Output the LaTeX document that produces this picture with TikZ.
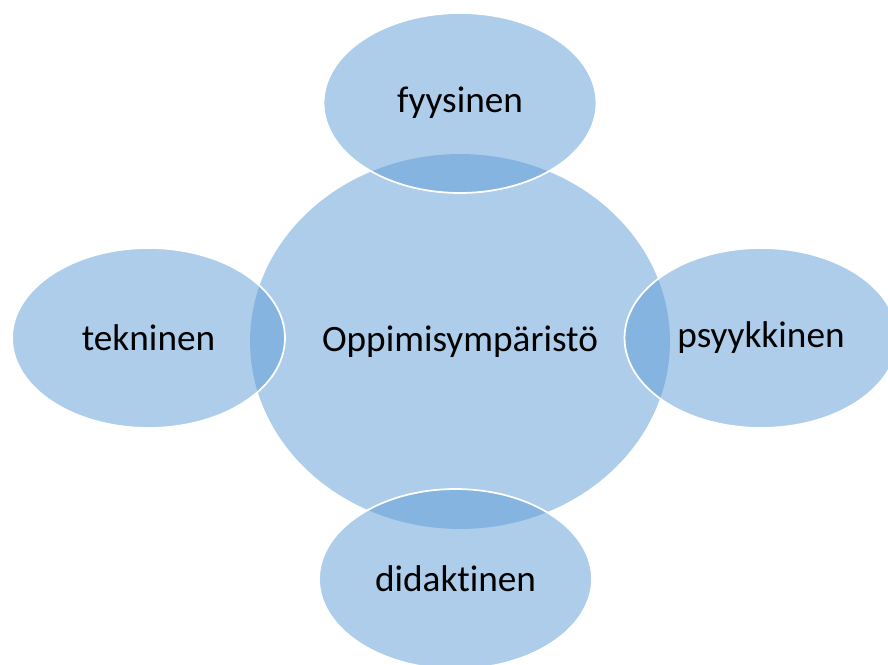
\documentclass[tikz,border=0pt]{standalone}
\usepackage{fontspec}
\setmainfont{Carlito}[Ligatures=NoCommon]
\usepackage{tikz}
\usetikzlibrary{shapes.geometric}
\definecolor{bubbleBlue}{RGB}{91,155,213}
\tikzset{
    hub/.style={ellipse, fill=bubbleBlue, fill opacity=.5, text opacity=1,
        inner sep=0, minimum width=8.4cm, minimum height=7.5cm,
        font=\fontsize{21.2}{25}\selectfont},
    spoke/.style={hub, draw=white, draw opacity=1, line width=1pt,
        minimum width=5.46cm, minimum height=3.6cm}
}
\begin{document}
\begin{tikzpicture}[x=.02cm, y=-.02cm]
    \useasboundingbox (0, 0) rectangle (888, 665);
    % centre first, the four around it on top
    \node[hub]   (env)  at (460, 341.5) {Oppimisympäristö};
    \node[spoke] (phys) at (460, 103)   {fyysinen};
    \node[spoke] (tech) at (148.5, 338) {tekninen};
    \node[spoke] (psy)  at (761, 338)   {psyykkinen};
    \node[spoke] (did)  at (455.5, 579) {didaktinen};
\end{tikzpicture}
\end{document}
